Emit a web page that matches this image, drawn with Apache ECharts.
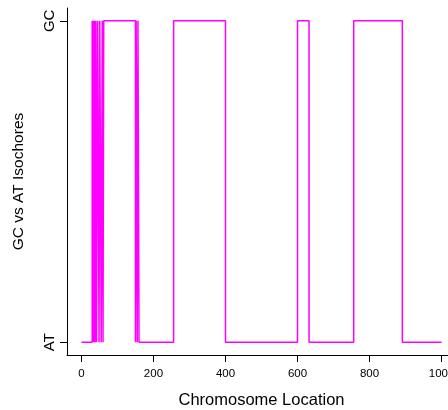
<!DOCTYPE html>
<html>
<head>
<meta charset="utf-8">
<script src="https://cdn.jsdelivr.net/npm/echarts@6/dist/echarts.min.js"></script>
<style>
html, body { margin: 0; padding: 0; background: #fff; }
#main { width: 448px; height: 410px; }
</style>
</head>
<body>
<div id="main"></div>
<script>
// segment start positions and the isochore state from there on (0 = AT, 1 = GC)
var segStart = [0, 30, 32, 33, 35, 37, 39, 40, 42, 45, 49, 51, 55, 58, 60, 62, 150, 152, 155, 157, 160, 256, 400, 600, 632, 756, 891, 1000];
var segState = [0, 1, 0, 1, 0, 1, 0, 1, 0, 1, 0, 1, 0, 1, 0, 1, 0, 1, 0, 1, 0, 1, 0, 1, 0, 1, 0, 0];
var xTicks = [0, 200, 400, 600, 800, 1000];
var yTicks = [0, 1];
var yLabels = ['AT', 'GC'];

var points = [];
for (var i = 0; i < segStart.length; i++) {
	points.push([segStart[i], segState[i]]);
}

var myChart = echarts.init(document.getElementById('main'));
var option = {
	animation : false,
	grid : {
		left : 67,
		top : 8,
		width : 389,
		height : 347,
		outerBoundsMode : 'none'
	},
	xAxis : {
		type : 'value',
		min : -40,
		max : 1040,
		name : 'Chromosome Location',
		nameLocation : 'middle',
		nameGap : 37,
		nameTextStyle : {
			color : '#000',
			fontFamily : 'Liberation Sans',
			fontSize : 16.5
		},
		splitLine : { show : false },
		axisLine : { onZero : false, lineStyle : { color : '#000', width : 1 } },
		axisTick : { customValues : xTicks, length : 7, lineStyle : { color : '#000' } },
		axisLabel : {
			customValues : xTicks,
			margin : 13,
			color : '#000',
			fontFamily : 'Liberation Sans',
			fontSize : 11.5,
			formatter : function (v) {
				return String(v);
			}
		}
	},
	yAxis : {
		type : 'value',
		min : -0.04,
		max : 1.04,
		name : 'GC vs AT Isochores',
		nameLocation : 'middle',
		nameGap : 40,
		nameRotate : 90,
		nameTextStyle : {
			color : '#000',
			fontFamily : 'Liberation Sans',
			fontSize : 15.5
		},
		splitLine : { show : false },
		axisLine : { show : true, onZero : false, lineStyle : { color : '#000', width : 1 } },
		axisTick : { show : true, customValues : yTicks, length : 7, lineStyle : { color : '#000' } },
		axisLabel : {
			customValues : yTicks,
			rotate : 90,
			margin : 10,
			color : '#000',
			fontFamily : 'Liberation Sans',
			fontSize : 15,
			formatter : function (v) {
				return yLabels[Math.round(v)];
			}
		}
	},
	series : [ {
		type : 'line',
		step : 'end',
		data : points,
		symbol : 'none',
		lineStyle : { color : '#ff00ff', width : 1.5 }
	} ]
};
myChart.setOption(option);
</script>
</body>
</html>
